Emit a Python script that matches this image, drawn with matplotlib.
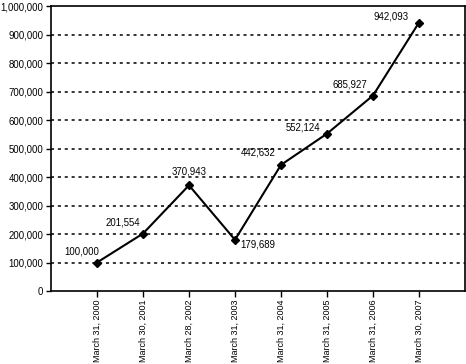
import matplotlib
matplotlib.use("Agg")
import matplotlib.pyplot as plt
from matplotlib.ticker import FuncFormatter, MultipleLocator

plt.rcParams['font.family'] = ['Liberation Sans', 'DejaVu Sans']

dates = ["March 31, 2000", "March 30, 2001", "March 28, 2002", "March 31, 2003",
         "March 31, 2004", "March 31, 2005", "March 31, 2006", "March 30, 2007"]
values = [100000, 201554, 370943, 179689, 442632, 552124, 685927, 942093]
# label offsets in pixels (dx, dy) relative to each point
offsets = [(-15, 11), (-20, 11), (0, 14), (23, -5), (-23, 12), (-24, 6), (-23, 11), (-28, 6)]

fig = plt.figure(figsize=(4.66, 3.64), dpi=100)
ax = fig.add_axes([0.1094, 0.2005, 0.8885, 0.783])

x = list(range(1, len(values) + 1))
ax.plot(x, values, color='black', lw=1.5, marker='D', markersize=4.5, zorder=3)

for xi, v, (dx, dy) in zip(x, values, offsets):
    ax.annotate(f"{v:,}", (xi, v), xytext=(dx, dy), textcoords='offset pixels',
                ha='center', va='center', fontsize=6.9)

ax.set_xlim(0, 9)
ax.set_ylim(0, 1000000)
ax.yaxis.set_major_locator(MultipleLocator(100000))
ax.yaxis.set_major_formatter(FuncFormatter(lambda v, p: f"{int(v):,}"))
ax.set_xticks(x)
ax.set_xticklabels(dates, rotation=90, fontsize=6.5)
ax.tick_params(axis='y', labelsize=6.9, length=3.5, width=1, direction='out', pad=2)
ax.tick_params(axis='x', length=4, width=1, direction='out', pad=2)

for yv in range(100000, 1000000, 100000):
    ax.axhline(yv, color='black', lw=1.1, linestyle=(0, (2, 2.5)), zorder=1)

for s in ax.spines.values():
    s.set_linewidth(1.2)

fig.savefig("out.png", dpi=100)
